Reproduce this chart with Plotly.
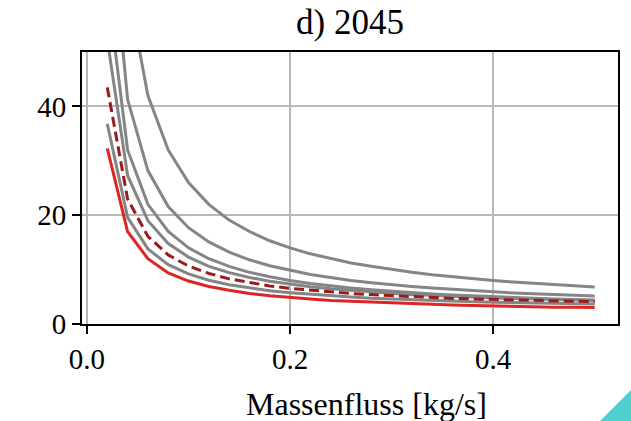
import plotly.graph_objects as go

# Data
massenfluss = [0.02, 0.04, 0.06, 0.08, 0.10, 0.12, 0.14, 0.16, 0.18, 0.20,
               0.22, 0.24, 0.26, 0.28, 0.30, 0.32, 0.34, 0.36, 0.38, 0.40,
               0.42, 0.44, 0.46, 0.48, 0.50]

gray_1 = [36.8, 19.6, 13.8, 10.9, 9.2, 8.05, 7.2, 6.6, 6.1, 5.75, 5.44, 5.2, 4.95,
          4.75, 4.6, 4.45, 4.33, 4.2, 4.1, 4.0, 3.95, 3.87, 3.8, 3.74, 3.68]
gray_2 = [52.3, 27.3, 19.0, 14.8, 12.3, 10.6, 9.45, 8.55, 7.85, 7.3, 6.85, 6.47, 6.15,
          5.87, 5.63, 5.43, 5.24, 5.08, 4.93, 4.8, 4.68, 4.57, 4.47, 4.38, 4.3]
gray_3 = [62.0, 32.0, 22.0, 17.0, 14.0, 12.0, 10.6, 9.5, 8.7, 8.0, 7.45, 7.0, 6.6,
          6.3, 6.0, 5.75, 5.53, 5.33, 5.16, 5.0, 4.86, 4.73, 4.6, 4.5, 4.4]
gray_4 = [80.5, 41.3, 28.2, 21.6, 17.7, 15.1, 13.2, 11.8, 10.7, 9.85, 9.1, 8.55, 8.0,
          7.6, 7.2, 6.9, 6.6, 6.35, 6.1, 5.9, 5.7, 5.55, 5.4, 5.27, 5.14]
gray_5 = [122.0, 62.0, 42.0, 32.0, 26.0, 22.0, 19.1, 17.0, 15.3, 14.0, 12.9, 12.0, 11.2,
          10.6, 10.0, 9.5, 9.05, 8.67, 8.3, 8.0, 7.7, 7.45, 7.2, 7.0, 6.8]
red_line = [32.3, 17.0, 12.0, 9.4, 7.9, 6.9, 6.2, 5.6, 5.2, 4.85, 4.6, 4.3, 4.15,
            4.0, 3.85, 3.7, 3.6, 3.5, 3.4, 3.3, 3.25, 3.2, 3.1, 3.07, 3.02]
dashed_line = [43.5, 23.0, 16.1, 12.7, 10.65, 9.3, 8.3, 7.6, 7.0, 6.55, 6.2, 5.9, 5.6,
               5.4, 5.2, 5.0, 4.85, 4.7, 4.6, 4.5, 4.4, 4.3, 4.2, 4.15, 4.1]

title_text = "d) 2045"
x_label = "Massenfluss [kg/s]"
x_ticks = [0.0, 0.2, 0.4]
x_ticktext = ["0.0", "0.2", "0.4"]
y_ticks = [0, 20, 40]
y_ticktext = ["0", "20", "40"]

FONT = "Liberation Serif, Times New Roman, serif"
GRAY = "#858585"

fig = go.Figure()
for ys in [gray_1, gray_2, gray_3, gray_4, gray_5]:
    fig.add_trace(go.Scatter(x=massenfluss, y=ys, mode="lines",
                             line=dict(color=GRAY, width=3), showlegend=False))
fig.add_trace(go.Scatter(x=massenfluss, y=red_line, mode="lines",
                         line=dict(color="#dc2626", width=3), showlegend=False))
fig.add_trace(go.Scatter(x=massenfluss, y=dashed_line, mode="lines",
                         line=dict(color="#9a1b1b", width=3, dash="10px,5px"),
                         showlegend=False))

axis_common = dict(
    showline=True, mirror=True, linecolor="black", linewidth=2,
    ticks="outside", ticklen=8, tickwidth=2, tickcolor="black",
    showgrid=True, gridcolor="#b8b8b8", gridwidth=1.6,
    zeroline=False,
    tickfont=dict(family=FONT, size=29, color="black"),
)

fig.update_layout(
    width=631, height=421,
    margin=dict(l=82, r=13, t=52, b=97),
    paper_bgcolor="white", plot_bgcolor="white",
    title=dict(text=title_text, x=0.5, xref="paper", xanchor="center",
               y=1 - 22 / 421, yref="container", yanchor="middle",
               font=dict(family=FONT, size=35, color="black")),
    xaxis=dict(range=[-0.0049, 0.523], tickvals=x_ticks, ticktext=x_ticktext, **axis_common),
    yaxis=dict(range=[0, 50], tickvals=y_ticks, ticktext=y_ticktext, **axis_common),
    annotations=[dict(text=x_label, xref="paper", yref="paper",
                      x=(366 - 82) / 536, y=(324 - 404) / 272,
                      xanchor="center", yanchor="middle", showarrow=False,
                      font=dict(family=FONT, size=32, color="black"))],
    shapes=[dict(type="path", xref="paper", yref="paper",
                 path="M %f,%f L %f,%f L %f,%f Z" % (
                     (600 - 82) / 536, (324 - 421) / 272,
                     (631 - 82) / 536, (324 - 390) / 272,
                     (631 - 82) / 536, (324 - 421) / 272),
                 fillcolor="#4ecfd0", line=dict(width=0), layer="above")],
)

fig.write_html("out.html",
               config={"displayModeBar": False},
               post_script="document.body.style.margin='0';document.body.style.overflow='hidden';")
